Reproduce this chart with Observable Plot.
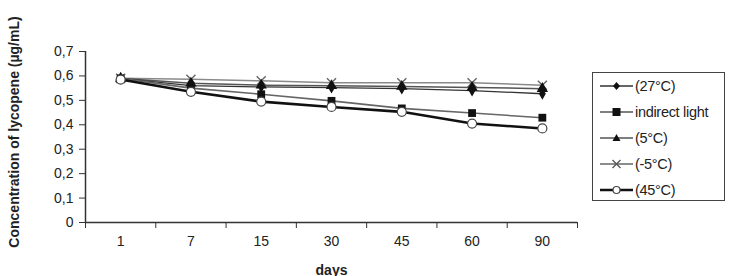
<!DOCTYPE html>
<html>
<head>
<meta charset="utf-8">
<script src="https://cdn.jsdelivr.net/npm/d3@7"></script>
<script src="https://cdn.jsdelivr.net/npm/@observablehq/plot@0.6"></script>
<style>
  html, body { margin: 0; padding: 0; background: #fff; }
  #wrap { position: relative; width: 737px; height: 276px; overflow: hidden; font-family: "Liberation Sans", Arial, sans-serif; }
  #legend { position: absolute; left: 592px; top: 72px; width: 131px; height: 127px; border: 1px solid #444; background: #fff; }
  .row { height: 26px; display: flex; align-items: center; }
  .row svg { margin-left: 7px; flex: none; }
  .row span { font-size: 14.5px; color: #222; margin-left: 1px; letter-spacing: -0.3px; white-space: nowrap; }
</style>
</head>
<body>
<div id="wrap"><div id="chart"></div><div id="legend"></div></div>
<script>
const days = ["1", "7", "15", "30", "45", "60", "90"];
const yTicks = [0, 0.1, 0.2, 0.3, 0.4, 0.5, 0.6, 0.7];
const seriesNames = ["(27°C)", "indirect light", "(5°C)", "(-5°C)", "(45°C)"];
const t27      = [0.590, 0.560, 0.555, 0.552, 0.548, 0.540, 0.527];
const indirect = [0.590, 0.550, 0.525, 0.498, 0.467, 0.448, 0.429];
const t5       = [0.590, 0.570, 0.562, 0.560, 0.557, 0.553, 0.548];
const tm5      = [0.590, 0.586, 0.580, 0.572, 0.572, 0.572, 0.562];
const t45      = [0.585, 0.535, 0.495, 0.473, 0.453, 0.405, 0.385];

const toRows = (vals) => vals.map((v, i) => ({i: i + 0.5, day: days[i], v}));

const styles = [
  {vals: tm5,      stroke: "#8a8a8a", sw: 1.5, symbol: "times",    r: 4.2, fill: "none", dotStroke: "#666"},
  {vals: t5,       stroke: "#555",    sw: 1.5, symbol: "triangle", r: 4.2, fill: "#111", dotStroke: "none"},
  {vals: t27,      stroke: "#333",    sw: 1.3, symbol: "diamond",  r: 3.6, fill: "#111", dotStroke: "none"},
  {vals: indirect, stroke: "#666",    sw: 1.6, symbol: "square",   r: 4.4, fill: "#111", dotStroke: "none"},
  {vals: t45,      stroke: "#111",    sw: 2.6, symbol: "circle",   r: 4.5, fill: "#fff", dotStroke: "#444"}
];

const marks = [
  Plot.ruleY([0], {stroke: "#333", strokeWidth: 1.5}),
  Plot.ruleX([0], {stroke: "#333", strokeWidth: 1.5}),
  Plot.axisY({ticks: yTicks, tickFormat: d => d === 0 ? "0" : d.toFixed(1).replace(".", ","),
    tickSize: 6, tickPadding: 6, fontSize: 14, label: null, stroke: "#333", color: "#222"}),
  Plot.axisX({ticks: d3.range(days.length + 1), tickFormat: () => "", tickSize: 6, label: null, stroke: "#333"}),
  Plot.axisX({ticks: days.map((d, i) => i + 0.5), tickFormat: d => days[Math.floor(d)],
    tickSize: 0, tickPadding: 14, fontSize: 14, label: null, color: "#222"}),
  Plot.text(["Concentration of lycopene (µg/mL)"], {frameAnchor: "left", textAnchor: "middle", lineAnchor: "middle",
    rotate: -90, dx: -71, dy: -5, fontWeight: "bold", fontSize: 14, fill: "#222"}),
  Plot.text(["days"], {frameAnchor: "bottom", dy: 52, fontWeight: "bold", fontSize: 14, fill: "#222"})
];

for (const s of styles) {
  marks.push(Plot.line(toRows(s.vals), {x: "i", y: "v", stroke: s.stroke, strokeWidth: s.sw}));
}
for (const s of styles) {
  marks.push(Plot.dot(toRows(s.vals), {x: "i", y: "v", symbol: s.symbol, r: s.r,
    fill: s.fill, stroke: s.dotStroke, strokeWidth: s.symbol === "times" ? 1.4 : 1.2}));
}

const chart = Plot.plot({
  width: 737, height: 276,
  marginLeft: 85, marginRight: 160, marginTop: 51, marginBottom: 54,
  style: {fontFamily: "'Liberation Sans', Arial, sans-serif", background: "#fff"},
  x: {type: "linear", domain: [0, days.length], axis: null},
  y: {domain: [0, 0.7], axis: null},
  marks
});
document.getElementById("chart").appendChild(chart);

// Legend (order as in the reference)
const legendSym = {
  "(27°C)": '<line x1="0" y1="8" x2="33" y2="8" stroke="#333" stroke-width="1.3"/><polygon points="16.5,4 20,8 16.5,12 13,8" fill="#111"/>',
  "indirect light": '<line x1="0" y1="8" x2="33" y2="8" stroke="#555" stroke-width="1.5"/><rect x="12.5" y="4" width="8" height="8" fill="#111"/>',
  "(5°C)": '<line x1="0" y1="8" x2="33" y2="8" stroke="#555" stroke-width="1.5"/><polygon points="16.5,4 20.5,11 12.5,11" fill="#111"/>',
  "(-5°C)": '<line x1="0" y1="8" x2="33" y2="8" stroke="#666" stroke-width="1.3"/><path d="M12.5,4L20.5,12M20.5,4L12.5,12" stroke="#555" stroke-width="1.3"/>',
  "(45°C)": '<line x1="0" y1="8" x2="33" y2="8" stroke="#111" stroke-width="2.6"/><circle cx="16.5" cy="8" r="3.5" fill="#fff" stroke="#444" stroke-width="1.2"/>'
};
const leg = document.getElementById("legend");
for (const name of seriesNames) {
  const row = document.createElement("div");
  row.className = "row";
  row.innerHTML = `<svg width="34" height="16" viewBox="0 0 34 16">${legendSym[name]}</svg><span>${name}</span>`;
  leg.appendChild(row);
}
</script>
</body>
</html>
